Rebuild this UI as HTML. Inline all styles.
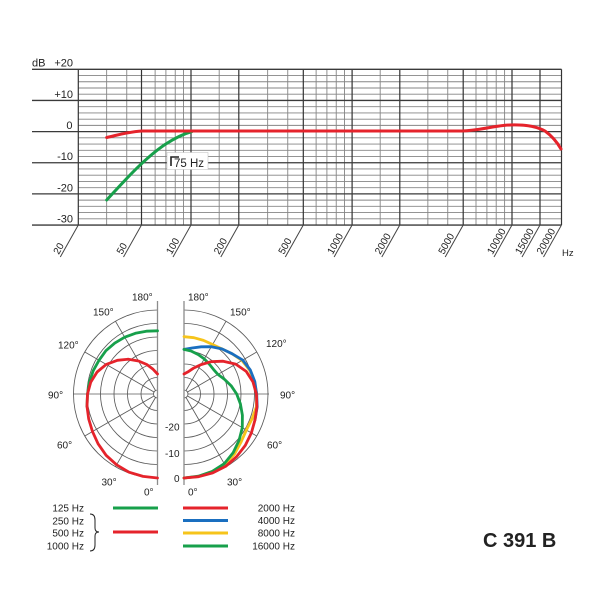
<!DOCTYPE html>
<html><head><meta charset="utf-8"><style>
html,body{margin:0;padding:0;background:#fff;}
svg{display:block;font-family:"Liberation Sans",Arial,sans-serif;}
</style></head><body>
<svg width="600" height="600" viewBox="0 0 600 600" xmlns="http://www.w3.org/2000/svg">
<rect width="600" height="600" fill="#fff"/>
<!-- ===== Frequency response grid ===== -->
<g stroke="#858585" stroke-width="0.9">
<line x1="78.3" y1="75.53" x2="561.5" y2="75.53"/><line x1="78.3" y1="81.76" x2="561.5" y2="81.76"/><line x1="78.3" y1="87.99" x2="561.5" y2="87.99"/><line x1="78.3" y1="94.22" x2="561.5" y2="94.22"/>
<line x1="78.3" y1="106.68" x2="561.5" y2="106.68"/><line x1="78.3" y1="112.91" x2="561.5" y2="112.91"/><line x1="78.3" y1="119.14" x2="561.5" y2="119.14"/><line x1="78.3" y1="125.37" x2="561.5" y2="125.37"/>
<line x1="78.3" y1="137.83" x2="561.5" y2="137.83"/><line x1="78.3" y1="144.06" x2="561.5" y2="144.06"/><line x1="78.3" y1="150.29" x2="561.5" y2="150.29"/><line x1="78.3" y1="156.52" x2="561.5" y2="156.52"/>
<line x1="78.3" y1="168.98" x2="561.5" y2="168.98"/><line x1="78.3" y1="175.21" x2="561.5" y2="175.21"/><line x1="78.3" y1="181.44" x2="561.5" y2="181.44"/><line x1="78.3" y1="187.67" x2="561.5" y2="187.67"/>
<line x1="78.3" y1="200.13" x2="561.5" y2="200.13"/><line x1="78.3" y1="206.36" x2="561.5" y2="206.36"/><line x1="78.3" y1="212.59" x2="561.5" y2="212.59"/><line x1="78.3" y1="218.82" x2="561.5" y2="218.82"/>
</g>
<g stroke="#858585" stroke-width="0.9">
<line x1="106.65" y1="69.3" x2="106.65" y2="225"/><line x1="126.76" y1="69.3" x2="126.76" y2="225"/>
<line x1="155.12" y1="69.3" x2="155.12" y2="225"/><line x1="165.9" y1="69.3" x2="165.9" y2="225"/><line x1="175.23" y1="69.3" x2="175.23" y2="225"/><line x1="183.47" y1="69.3" x2="183.47" y2="225"/>
<line x1="219.19" y1="69.3" x2="219.19" y2="225"/>
<line x1="267.65" y1="69.3" x2="267.65" y2="225"/><line x1="287.76" y1="69.3" x2="287.76" y2="225"/>
<line x1="316.12" y1="69.3" x2="316.12" y2="225"/><line x1="326.9" y1="69.3" x2="326.9" y2="225"/><line x1="336.23" y1="69.3" x2="336.23" y2="225"/><line x1="344.47" y1="69.3" x2="344.47" y2="225"/>
<line x1="380.19" y1="69.3" x2="380.19" y2="225"/>
<line x1="427.85" y1="69.3" x2="427.85" y2="225"/><line x1="447.75" y1="69.3" x2="447.75" y2="225"/>
<line x1="476" y1="69.3" x2="476" y2="225"/><line x1="486.9" y1="69.3" x2="486.9" y2="225"/><line x1="496.2" y1="69.3" x2="496.2" y2="225"/><line x1="504.6" y1="69.3" x2="504.6" y2="225"/>
</g>
<g stroke="#333" stroke-width="1.2">
<line x1="78.3" y1="69.3" x2="78.3" y2="225"/><line x1="141.5" y1="69.3" x2="141.5" y2="225"/><line x1="191" y1="69.3" x2="191" y2="225"/><line x1="238.8" y1="69.3" x2="238.8" y2="225"/><line x1="303.3" y1="69.3" x2="303.3" y2="225"/><line x1="352.1" y1="69.3" x2="352.1" y2="225"/><line x1="399.8" y1="69.3" x2="399.8" y2="225"/><line x1="463.2" y1="69.3" x2="463.2" y2="225"/><line x1="512" y1="69.3" x2="512" y2="225"/><line x1="540" y1="69.3" x2="540" y2="225"/><line x1="561.5" y1="69.3" x2="561.5" y2="225"/>
</g>
<g stroke="#3a3a3a" stroke-width="1.3">
<line x1="32" y1="69.3" x2="561.5" y2="69.3"/><line x1="32" y1="100.45" x2="561.5" y2="100.45"/><line x1="32" y1="131.6" x2="561.5" y2="131.6"/><line x1="32" y1="162.75" x2="561.5" y2="162.75"/><line x1="32" y1="193.9" x2="561.5" y2="193.9"/><line x1="32" y1="225.05" x2="561.5" y2="225.05"/>
</g>
<!-- y labels -->
<g font-size="11" fill="#222">
<text x="32" y="66.5">dB</text>
<text x="73" y="66.5" text-anchor="end">+20</text>
<text x="73" y="98" text-anchor="end">+10</text>
<text x="72.5" y="129" text-anchor="end">0</text>
<text x="73" y="160" text-anchor="end">-10</text>
<text x="73" y="191.3" text-anchor="end">-20</text>
<text x="73" y="222.3" text-anchor="end">-30</text>
</g>
<!-- diagonal x labels -->
<g stroke="#444" stroke-width="1">
<line x1="78.3" y1="225" x2="60.3" y2="257"/><line x1="141.5" y1="225" x2="123.5" y2="257"/><line x1="191" y1="225" x2="173" y2="257"/><line x1="238.8" y1="225" x2="220.8" y2="257"/><line x1="303.3" y1="225" x2="285.3" y2="257"/><line x1="352.1" y1="225" x2="334.1" y2="257"/><line x1="399.8" y1="225" x2="381.8" y2="257"/><line x1="463.2" y1="225" x2="445.2" y2="257"/><line x1="512" y1="225" x2="494" y2="257"/><line x1="540" y1="225" x2="522" y2="257"/><line x1="561.5" y1="225" x2="543.5" y2="257"/>
</g>
<g font-size="10" fill="#222">
<text transform="translate(58.8,255) rotate(-60.6)">20</text>
<text transform="translate(122,255) rotate(-60.6)">50</text>
<text transform="translate(171.5,255) rotate(-60.6)">100</text>
<text transform="translate(219.3,255) rotate(-60.6)">200</text>
<text transform="translate(283.8,255) rotate(-60.6)">500</text>
<text transform="translate(332.6,255) rotate(-60.6)">1000</text>
<text transform="translate(380.3,255) rotate(-60.6)">2000</text>
<text transform="translate(443.7,255) rotate(-60.6)">5000</text>
<text transform="translate(492.5,255) rotate(-60.6)">10000</text>
<text transform="translate(520.5,255) rotate(-60.6)">15000</text>
<text transform="translate(542,255) rotate(-60.6)">20000</text>
<text x="562" y="256" font-size="9.5">Hz</text>
</g>
<!-- 75 Hz box -->
<rect x="167" y="152.5" width="41" height="17" fill="#fff" stroke="#bbb" stroke-width="0.5"/>
<path d="M171,166 L171,157 L179,157" fill="none" stroke="#222" stroke-width="1.6"/>
<text x="174" y="167" font-size="11.5" fill="#222">75 Hz</text>
<!-- curves -->
<path d="M106.7,200 C125,180 145,158 165,144.5 C175,138 183,134 192,131.5" fill="none" stroke="#17a04b" stroke-width="3" stroke-linecap="round"/>
<path d="M106.7,137.5 C120,134.5 130,131.5 142,131 L462,131 C480,130.5 495,125.5 510,125 C525,124.5 536,126 545,131 C552,136 557,142 561,149" fill="none" stroke="#e5232b" stroke-width="3" stroke-linecap="round"/>

<!-- ===== Polar grid ===== -->
<g fill="none" stroke="#5a5a5a" stroke-width="0.85">
<path d="M157.5,310 A84,84 0 0 0 157.5,478"/>
<path d="M157.5,323.5 A70.5,70.5 0 0 0 157.5,464.5"/>
<path d="M157.5,337 A57,57 0 0 0 157.5,451"/>
<path d="M157.5,350.5 A43.5,43.5 0 0 0 157.5,437.5"/>
<path d="M157.5,364 A30,30 0 0 0 157.5,424"/>
<path d="M157.5,377.5 A16.5,16.5 0 0 0 157.5,410.5"/>
<path d="M157.5,390 A4,4 0 0 0 157.5,398"/>
<path d="M184,310 A84,84 0 0 1 184,478"/>
<path d="M184,323.5 A70.5,70.5 0 0 1 184,464.5"/>
<path d="M184,337 A57,57 0 0 1 184,451"/>
<path d="M184,350.5 A43.5,43.5 0 0 1 184,437.5"/>
<path d="M184,364 A30,30 0 0 1 184,424"/>
<path d="M184,377.5 A16.5,16.5 0 0 1 184,410.5"/>
<path d="M184,390 A4,4 0 0 1 184,398"/>
<line x1="155.5" y1="397.5" x2="115.5" y2="466.7"/>
<line x1="154" y1="396" x2="84.8" y2="436"/>
<line x1="154" y1="392" x2="84.8" y2="352"/>
<line x1="155.5" y1="390.5" x2="115.5" y2="321.3"/>
<line x1="153.5" y1="394" x2="73" y2="394"/>
<line x1="186" y1="397.5" x2="226" y2="466.7"/>
<line x1="187.5" y1="396" x2="256.7" y2="436"/>
<line x1="187.5" y1="392" x2="256.7" y2="352"/>
<line x1="186" y1="390.5" x2="226" y2="321.3"/>
<line x1="188" y1="394" x2="269" y2="394"/>
</g>
<g stroke="#8c8c8c" stroke-width="1.3">
<line x1="157.5" y1="301" x2="157.5" y2="485"/>
<line x1="184" y1="301" x2="184" y2="485"/>
</g>
<!-- polar labels -->
<g font-size="10" fill="#222">
<text x="132" y="300.5">180°</text>
<text x="188" y="300.5">180°</text>
<text x="93" y="315.5">150°</text>
<text x="230" y="315.5">150°</text>
<text x="58" y="348.5">120°</text>
<text x="266" y="347">120°</text>
<text x="48" y="398.5">90°</text>
<text x="280" y="398.5">90°</text>
<text x="57" y="448.5">60°</text>
<text x="267" y="448.5">60°</text>
<text x="101.5" y="485.5">30°</text>
<text x="227" y="485.5">30°</text>
<text x="144" y="495.5">0°</text>
<text x="188" y="495.5">0°</text>
<text x="179.5" y="430.5" text-anchor="end">-20</text>
<text x="179.5" y="457" text-anchor="end">-10</text>
<text x="179.5" y="482" text-anchor="end">0</text>
</g>
<!-- polar curves -->
<g fill="none" stroke-width="2.8" stroke-linejoin="round" stroke-linecap="round">
<path stroke="#17a04b" d="M87,406.4 L87.5,394 L89.4,382 L93.3,370.6 L99,360.3 L105.9,350.7 L114.8,343.1 L124.7,337.2 L135.4,333.3 L146.4,331.2 L157.5,330.8"/>
<path stroke="#e5232b" d="M157.5,478 L143,476.4 L129,472.2 L116.6,464.8 L106.1,455.3 L98.1,443.8 L92.5,431.6 L88.7,419 L87,406.4 L87.5,394 L90.7,382.2 L97.1,372 L106.2,364.4 L117.4,360.3 L128.3,359.2 L138.5,361 L146.8,364.5 L153.1,369.3 L157.5,374"/>
<path stroke="#f6c41b" d="M184,478 L198.5,476.5 L212.2,471.5 L224.75,464.6 L234.5,454.1 L241.1,441.9 L246.4,430 L252.1,418.8 L256.4,406.8 L256.7,394 L254.4,381.6 L249.6,370.1 L242,360.5 L232,353.7 L221.9,348.9 L212.6,344.5 L203.5,340.4 L193.9,337.7 L184,336.7"/>
<path stroke="#1a6fc0" d="M255,419.9 L257.2,406.9 L256.7,394 L254.8,381.5 L250.25,369.9 L242.7,360.1 L232,353.7 L221.9,348.9 L211.3,346.7 L201.2,346.8 L192.1,348 L184,349.4"/>
<path stroke="#17a04b" d="M184,478 L198.5,476.2 L212.2,471.4 L224.25,463.7 L233.2,452.6 L239.1,440.2 L242.3,427.65 L242.4,415.2 L240.4,403.9 L236.7,394 L231.1,385.7 L224.4,379.3 L217.9,374.4 L213.4,369.3 L209.2,364 L204.25,358.9 L198.3,354.6 L191.55,351.2 L184,349.4"/>
<path stroke="#e5232b" d="M184,478 L198.6,476.7 L212.7,472.9 L225.75,466.3 L236.6,456.7 L245.3,445.4 L251.4,432.9 L255,419.9 L256.9,406.8 L256.4,394 L252.9,381.8 L246.2,371.4 L235.7,364.15 L223.1,361.2 L211.1,361.7 L201,364.6 L193.3,368.3 L187.9,371.9 L184,374"/>
</g>
<!-- legend -->
<g font-size="10" fill="#222">
<text x="84" y="511.5" text-anchor="end">125 Hz</text>
<text x="84" y="524.5" text-anchor="end">250 Hz</text>
<text x="84" y="536.5" text-anchor="end">500 Hz</text>
<text x="84" y="549.5" text-anchor="end">1000 Hz</text>
<text x="295" y="511.5" text-anchor="end">2000 Hz</text>
<text x="295" y="524" text-anchor="end">4000 Hz</text>
<text x="295" y="536.5" text-anchor="end">8000 Hz</text>
<text x="295" y="549.5" text-anchor="end">16000 Hz</text>
</g>
<path d="M90,514 Q95,514 95,520 L95,528 Q95,532 99,532 Q95,532 95,536 L95,545 Q95,551 90,551" fill="none" stroke="#222" stroke-width="1"/>
<g stroke-width="3">
<line x1="113" y1="508" x2="158" y2="508" stroke="#17a04b"/>
<line x1="113" y1="532" x2="158" y2="532" stroke="#e5232b"/>
<line x1="183" y1="508" x2="228" y2="508" stroke="#e5232b"/>
<line x1="183" y1="520.5" x2="228" y2="520.5" stroke="#1a6fc0"/>
<line x1="183" y1="533" x2="228" y2="533" stroke="#f6c41b"/>
<line x1="183" y1="546" x2="228" y2="546" stroke="#17a04b"/>
</g>
<text x="483" y="547" font-size="20" font-weight="bold" fill="#222">C 391 B</text>
</svg>
</body></html>
